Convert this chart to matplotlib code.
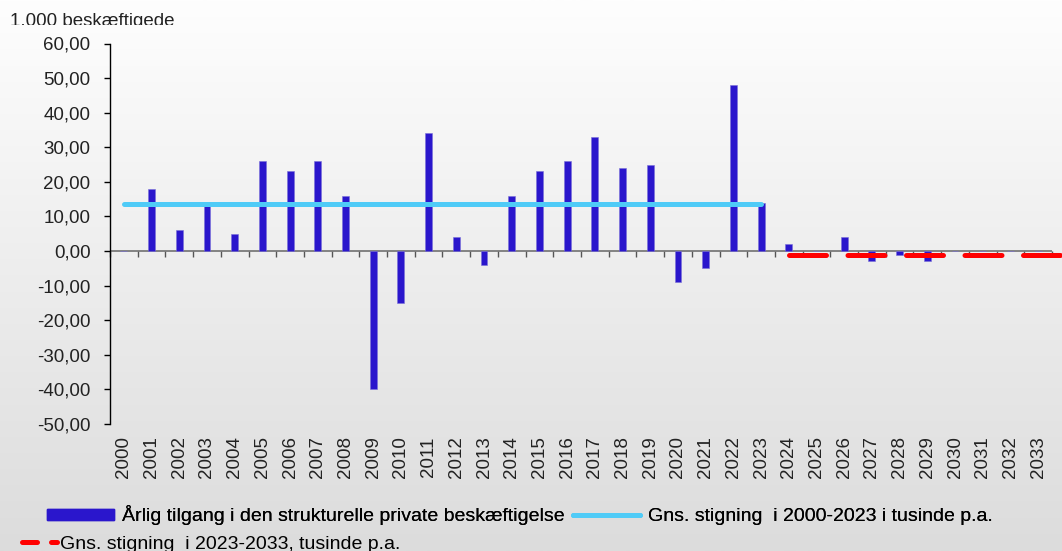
import numpy as np
import matplotlib
matplotlib.use("Agg")
import matplotlib.pyplot as plt
from matplotlib.lines import Line2D
from matplotlib.patches import Patch
from matplotlib.ticker import FuncFormatter, FixedLocator
from matplotlib.colors import LinearSegmentedColormap
from matplotlib.transforms import Bbox

plt.rcParams['font.family'] = ['Liberation Sans', 'DejaVu Sans']

years = list(range(2000, 2034))
growth = [0, 18, 6, 13, 5, 26, 23, 26, 16, -40,
          -15, 34, 4, -4, 16, 23, 26, 33, 24, 25,
          -9, -5, 48, 14, 2, 0, 4, -3, -1, -3,
          0, 0, 0, 0]
avg_hist_years = list(range(2000, 2024))
avg_hist_value = 13.5
avg_proj_years = list(range(2024, 2035))
avg_proj_value = -1.2
yticks = [60, 50, 40, 30, 20, 10, 0, -10, -20, -30, -40, -50]

label_bar = "Årlig tilgang i den strukturelle private beskæftigelse"
label_hist = "Gns. stigning  i 2000-2023 i tusinde p.a."
label_proj = "Gns. stigning  i 2023-2033, tusinde p.a."
unit_label = "1.000 beskæftigede"

BAR_C = "#2A16CC"
HIST_C = "#4FCBF7"
PROJ_C = "#FF0000"

W, H = 1062, 551
fig = plt.figure(figsize=(W / 100, H / 100), dpi=100)

# background gradient
bg = fig.add_axes([0, 0, 1, 1], zorder=-10)
grad = np.linspace(0, 1, 256).reshape(-1, 1)
cmap = LinearSegmentedColormap.from_list("bg", ["#FEFEFE", "#DCDCDC"])
bg.imshow(grad, aspect="auto", cmap=cmap, extent=[0, 1, 0, 1], origin="upper")
bg.axis("off")

left = 110 / W
right = 1052 / W
top = 1 - 43.5 / H
bottom = 1 - 424 / H
ax = fig.add_axes([left, bottom, right - left, top - bottom])
ax.set_facecolor("none")

x = np.arange(len(years))
ax.bar(x, growth, width=0.25, color=BAR_C, edgecolor="#7A70D8", linewidth=0.4, zorder=3)

xh = np.array([years.index(y) for y in avg_hist_years])
ax.plot(xh, [avg_hist_value] * len(xh), color=HIST_C, lw=3.6,
        solid_capstyle="round", zorder=4)

xp = np.array(avg_proj_years) - years[0]
ax.plot(xp, [avg_proj_value] * len(xp), color=PROJ_C, lw=3.6,
        dash_capstyle="round", dashes=(7.4, 4.3), zorder=5, clip_on=False)

ax.set_xlim(-0.5, len(years) - 0.5)
ax.set_ylim(-50, 60)

# zero line
ax.axhline(0, color="#707070", lw=1.2, zorder=2)

# y axis
ax.yaxis.set_major_locator(FixedLocator(yticks))
ax.yaxis.set_major_formatter(FuncFormatter(lambda v, p: f"{v:.2f}".replace(".", ",")))
ax.tick_params(axis="y", direction="out", length=4, width=1, pad=10,
               labelsize=13.5, colors="black", labelcolor="#222222")
for s in ["top", "right", "bottom"]:
    ax.spines[s].set_visible(False)
ax.spines["left"].set_color("black")
ax.spines["left"].set_linewidth(1)

# x tick labels at bottom
ax.set_xticks(x)
ax.set_xticklabels([str(y) for y in years], rotation=90, fontsize=13.5, color="#222222")
ax.tick_params(axis="x", length=0, pad=9)

# tick marks at category boundaries on zero line
sec = ax.secondary_xaxis(50 / 110)
sec.set_xticks(np.arange(len(years) + 1) - 0.5)
sec.set_xticklabels([])
sec.tick_params(axis="x", direction="out", length=4, width=1, color="#555555")
sec.spines["bottom"].set_visible(False)

t = fig.text(10 / W, 1 - 13 / H, unit_label, fontsize=13.5, color="#222222",
             ha="left", va="top")
t.set_clip_box(Bbox.from_extents(0, H - 24.5, W, H))
t.set_clip_on(True)

# legends
h1 = [Patch(facecolor=BAR_C, edgecolor=BAR_C),
      Line2D([], [], color=HIST_C, lw=3.6, solid_capstyle="round")]
leg1 = fig.legend(h1, [label_bar, label_hist], ncol=2, loc="center left",
                  bbox_to_anchor=(47 / W, 1 - 515 / H), frameon=False,
                  fontsize=14.0, handlelength=3.45, handleheight=0.5,
                  handletextpad=0.4, columnspacing=0.45, borderaxespad=0, borderpad=0)
h2 = [Line2D([], [], color=PROJ_C, lw=3.6, dash_capstyle="round", dashes=(3.0, 2.8))]
leg2 = fig.legend(h2, [label_proj], loc="center left",
                  bbox_to_anchor=(22 / W, 1 - 544 / H), frameon=False,
                  fontsize=14.0, handlelength=1.8, handletextpad=0.15,
                  borderaxespad=0, borderpad=0)
fig.add_artist(leg1)

fig.savefig("out.png", dpi=100)
